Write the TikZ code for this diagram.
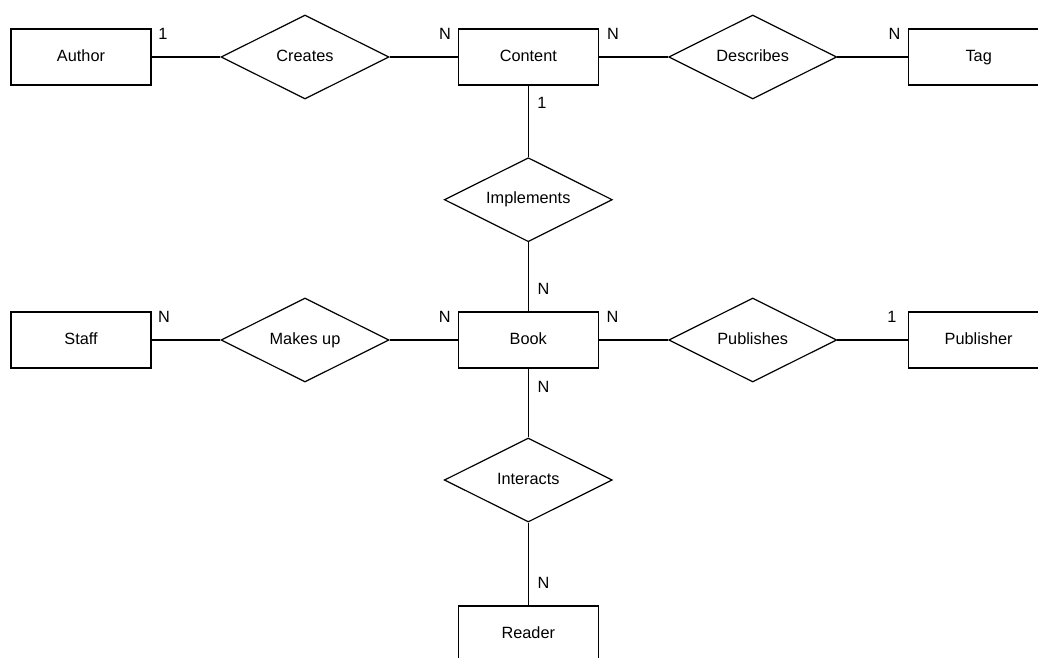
\documentclass[tikz,border=0pt]{standalone}
\usepackage{fontspec}
\setmainfont{Liberation Sans}
\usetikzlibrary{shapes.geometric}
\begin{document}
\begin{tikzpicture}[x=1pt,y=-1pt,
  entity/.style={draw,line width=1.2pt,minimum width=140pt,minimum height=56pt,inner sep=0pt,text height=11.6pt,text depth=3.4pt,font=\fontsize{16.3}{18}\selectfont},
  rel/.style={draw,line width=1.2pt,diamond,aspect=2,minimum width=168pt,minimum height=84pt,inner sep=0pt,text height=11.6pt,text depth=3.4pt,font=\fontsize{16.3}{18}\selectfont},
  card/.style={font=\fontsize{16.3}{18}\selectfont,inner sep=0pt},
  conn/.style={line width=1.2pt}]
\useasboundingbox (0,0) rectangle (1038,657);
\clip (0,0) rectangle (1038,657);
\fill[white] (0,0) rectangle (1038,657);
% entities
\node[entity] (author) at (81,57) {Author};
\node[entity] (content) at (528.3,57) {Content};
\node[entity] (tag) at (978.7,57) {Tag};
\node[entity] (staff) at (81,340) {Staff};
\node[entity] (book) at (528.3,340) {Book};
\node[entity] (publisher) at (978.7,340) {Publisher};
\node[entity] (reader) at (528.3,634) {Reader};
% relationships
\node[rel] (creates) at (305,57) {Creates};
\node[rel] (describes) at (752.7,57) {Describes};
\node[rel] (implements) at (528.3,199.7) {Implements};
\node[rel] (makesup) at (305,340) {Makes up};
\node[rel] (publishes) at (752.7,340) {Publishes};
\node[rel] (interacts) at (528.3,480) {Interacts};
% connectors
\draw[conn] (author.east) -- (creates.west);
\draw[conn] (creates.east) -- (content.west);
\draw[conn] (content.east) -- (describes.west);
\draw[conn] (describes.east) -- (tag.west);
\draw[conn] (content.south) -- (implements.north);
\draw[conn] (implements.south) -- (book.north);
\draw[conn] (staff.east) -- (makesup.west);
\draw[conn] (makesup.east) -- (book.west);
\draw[conn] (book.east) -- (publishes.west);
\draw[conn] (publishes.east) -- (publisher.west);
\draw[conn] (book.south) -- (interacts.north);
\draw[conn] (interacts.south) -- (reader.north);
% cardinalities
\node[card] (c1) at (163,34) {1};
\node[card] (c2) at (445,34) {N};
\node[card] (c3) at (613,34) {N};
\node[card] (c4) at (894.5,34) {N};
\node[card] (c5) at (542,103) {1};
\node[card] (c6) at (543.5,289) {N};
\node[card] (c7) at (164,317) {N};
\node[card] (c8) at (444.7,317) {N};
\node[card] (c9) at (612.5,317) {N};
\node[card] (c10) at (892,317) {1};
\node[card] (c11) at (543.5,387) {N};
\node[card] (c12) at (543.5,583) {N};
\end{tikzpicture}
\end{document}
